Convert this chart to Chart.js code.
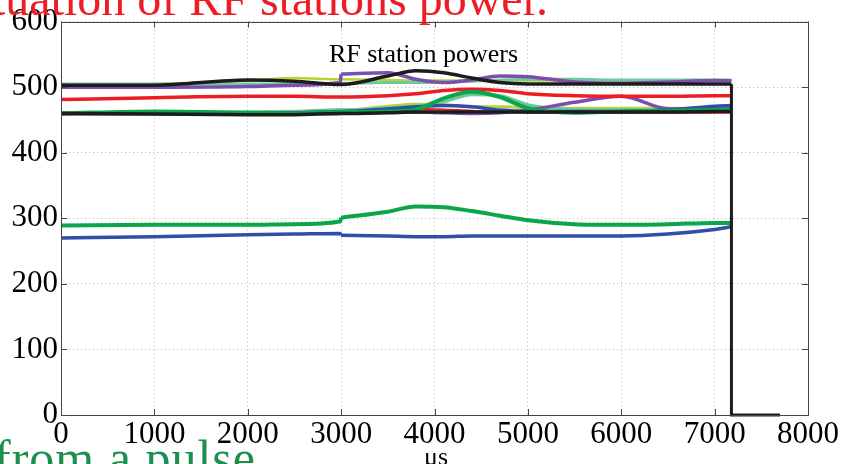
<!DOCTYPE html>
<html>
<head>
<meta charset="utf-8">
<script src="https://cdn.jsdelivr.net/npm/chart.js@4/dist/chart.umd.min.js"></script>
<style>
  html, body { margin: 0; padding: 0; background: #fff; }
  body { width: 842px; height: 464px; overflow: hidden; position: relative; }
  #wrap { position: absolute; left: 0; top: 0; width: 842px; height: 464px; }
  .note { position: absolute; white-space: nowrap; line-height: 1; font-family: "Liberation Serif", "DejaVu Serif", serif; }
  #slideTitle { right: 294px; top: -25px; font-size: 48px; color: #ee1c25; }
  #slideFoot { left: -6px; top: 433px; font-size: 50px; color: #1b8f4d; letter-spacing: 1px; }
  #unit { left: 424px; top: 444px; font-size: 26px; color: #000; }
</style>
</head>
<body>
<div id="wrap"><canvas id="rfChart" width="842" height="464"></canvas></div>
<div class="note" id="slideTitle">Fluctuation of RF stations power.</div>
<div class="note" id="slideFoot">from a pulse</div>
<div class="note" id="unit">μs</div>
<script>
// Sample times (us) shared by all station traces; some stations step at 3000 us
const timesUs = [0, 1000, 2000, 2500, 2990, 3000, 3500, 3800, 4100, 4400, 4700, 5000, 5500, 6000, 6500, 7000, 7180];
const STEP_INDEX = 5; // first sample after the step

// Station powers, upper group (~500)
const blackUpper  = [503, 503, 511, 509, 504, 504, 517, 525, 522, 514, 507, 505, 505, 505, 505, 505, 505];
const purpleUpper = [500, 500, 501, 503, 507, 520, 522, 512, 507, 511, 517, 516, 508, 506, 508, 510, 510];
const limeUpper   = [503, 505, 510, 514, 512, 512, 511, 510, 510, 510, 510, 510, 510, 510, 510, 510, 510];
const mintUpper   = [505, 505, 505, 505, 506, 506, 507, 507, 508, 509, 511, 512, 512, 511, 511, 511, 510];
const redUpper    = [481, 484, 486, 486, 485, 485, 487, 490, 495, 497, 495, 490, 487, 486, 486, 487, 487];

// Station powers, lower group (~460)
const blackLower  = [460, 459, 458, 458, 460, 460, 461, 462, 462, 462, 462, 462, 462, 462, 462, 463, 463];
const greenMid    = [460, 463, 461, 460, 462, 462, 463, 466, 483, 493, 485, 468, 461, 463, 464, 465, 465];
const mintLower   = [460, 461, 462, 463, 465, 465, 468, 471, 478, 489, 487, 473, 466, 465, 465, 466, 466];
const blueMid     = [460, 460, 460, 461, 463, 463, 467, 470, 472, 470, 465, 463, 463, 463, 465, 471, 472];
const limeLower   = [460, 460, 461, 462, 465, 465, 471, 474, 473, 470, 470, 469, 468, 468, 468, 468, 468];
const purpleLower = [460, 460, 460, 460, 460, 461, 462, 462, 461, 460, 461, 465, 477, 486, 467, 466, 467];
const redLower    = [460, 461, 462, 463, 465, 465, 467, 467, 466, 464, 462, 461, 461, 461, 461, 461, 461];

// Low power stations (~280)
const greenLow = [289, 290, 290, 291, 295, 301, 310, 318, 317, 311, 304, 297, 291, 290, 291, 293, 293];
const blueLow  = [270, 272, 275, 276, 277, 274, 273, 272, 272, 273, 273, 273, 273, 273, 276, 283, 287];

// Pulse end: trip down to zero
const tripTimes  = [7180, 7180, 7700];
const tripValues = [505, 0, 0];

// Axis ticks
const xTicks = [0, 1000, 2000, 3000, 4000, 5000, 6000, 7000, 8000];
const yTicks = [0, 100, 200, 300, 400, 500, 600];

const BLACK = '#1c1c1c';
const RED = '#ee1c25';
const GREEN = '#0aa64a';
const BLUE = '#2f4fa8';
const PURPLE = '#7c4fae';
const LIME = '#b8d432';
const MINT = '#70c99c';

function trace(values, color, width, times) {
    const t = times || timesUs;
    return {
        data: t.map((x, i) => ({ x: x, y: values[i] })),
        borderColor: color,
        borderWidth: width,
        pointRadius: 0,
        fill: false,
        cubicInterpolationMode: 'monotone'
    };
}

// traces with a step at 3000 us: the first part runs up the step, the second starts after it
function steppedTrace(values, color, width) {
    return [
        trace(values.slice(0, STEP_INDEX + 1), color, width, timesUs.slice(0, STEP_INDEX + 1)),
        trace(values.slice(STEP_INDEX), color, width, timesUs.slice(STEP_INDEX))
    ];
}

const tripSet = trace(tripValues, BLACK, 3, tripTimes);
tripSet.cubicInterpolationMode = 'default';
tripSet.tension = 0;
tripSet.clip = false;

const datasets = [
    tripSet,
    trace(blackUpper, BLACK, 3.5),
    trace(blackLower, BLACK, 3.5),
    trace(greenMid, GREEN, 4),
    trace(redUpper, RED, 3.5),
    ...steppedTrace(purpleUpper, PURPLE, 3.5),
    trace(blueMid, BLUE, 3.5),
    trace(purpleLower, PURPLE, 3.5),
    trace(mintLower, MINT, 3.5),
    trace(limeLower, LIME, 3),
    trace(redLower, RED, 2),
    trace(mintUpper, MINT, 3),
    trace(limeUpper, LIME, 2.5),
    ...steppedTrace(greenLow, GREEN, 4),
    ...steppedTrace(blueLow, BLUE, 3.5)
];

// Box frame, inward tick marks and the in-plot title
const framePlugin = {
    id: 'frame',
    afterDatasetsDraw(chart) {
        const ctx = chart.ctx;
        const a = chart.chartArea;
        const xs = chart.scales.x;
        const ys = chart.scales.y;
        ctx.save();
        ctx.strokeStyle = '#444';
        ctx.lineWidth = 1;
        ctx.beginPath();
        xs.ticks.forEach(t => {
            const px = Math.round(xs.getPixelForValue(t.value)) + 0.5;
            ctx.moveTo(px, a.bottom); ctx.lineTo(px, a.bottom - 6);
            ctx.moveTo(px, a.top); ctx.lineTo(px, a.top + 6);
        });
        ys.ticks.forEach(t => {
            const py = Math.round(ys.getPixelForValue(t.value)) + 0.5;
            ctx.moveTo(a.left, py); ctx.lineTo(a.left + 6, py);
            ctx.moveTo(a.right, py); ctx.lineTo(a.right - 6, py);
        });
        ctx.stroke();
        ctx.strokeRect(Math.round(a.left) + 0.5, Math.round(a.top) + 0.5,
            Math.round(a.right - a.left), Math.round(a.bottom - a.top));
        ctx.fillStyle = '#000';
        ctx.font = '26px "Liberation Serif", serif';
        ctx.textAlign = 'center';
        ctx.textBaseline = 'middle';
        ctx.fillText('RF station powers', (a.left + a.right) / 2 - 11, a.top + 34);
        ctx.restore();
    }
};

const tickFont = { family: '"Liberation Serif", serif', size: 31 };

new Chart(document.getElementById('rfChart'), {
    type: 'line',
    data: { datasets: datasets },
    options: {
        responsive: false,
        animation: false,
        events: [],
        layout: { padding: { top: 18, right: 34, left: 0, bottom: 0 } },
        plugins: { legend: { display: false }, tooltip: { enabled: false } },
        scales: {
            x: {
                type: 'linear',
                min: xTicks[0],
                max: xTicks[xTicks.length - 1],
                afterBuildTicks: s => { s.ticks = xTicks.map(v => ({ value: v })); },
                afterFit: s => { s.height = 49; },
                grid: { color: '#b5b5b5', lineWidth: 1, drawTicks: false },
                border: { display: false, dash: [1, 3] },
                ticks: { color: '#000', font: tickFont, padding: 1, maxRotation: 0, autoSkip: false,
                         callback: v => String(v) }
            },
            y: {
                type: 'linear',
                min: yTicks[0],
                max: yTicks[yTicks.length - 1],
                afterBuildTicks: s => { s.ticks = yTicks.map(v => ({ value: v })); },
                afterFit: s => { s.width = 61; },
                grid: { color: '#b5b5b5', lineWidth: 1, drawTicks: false },
                border: { display: false, dash: [1, 3] },
                ticks: { color: '#000', font: tickFont, padding: 3, autoSkip: false,
                         callback: v => String(v) }
            }
        }
    },
    plugins: [framePlugin]
});
</script>
</body>
</html>
